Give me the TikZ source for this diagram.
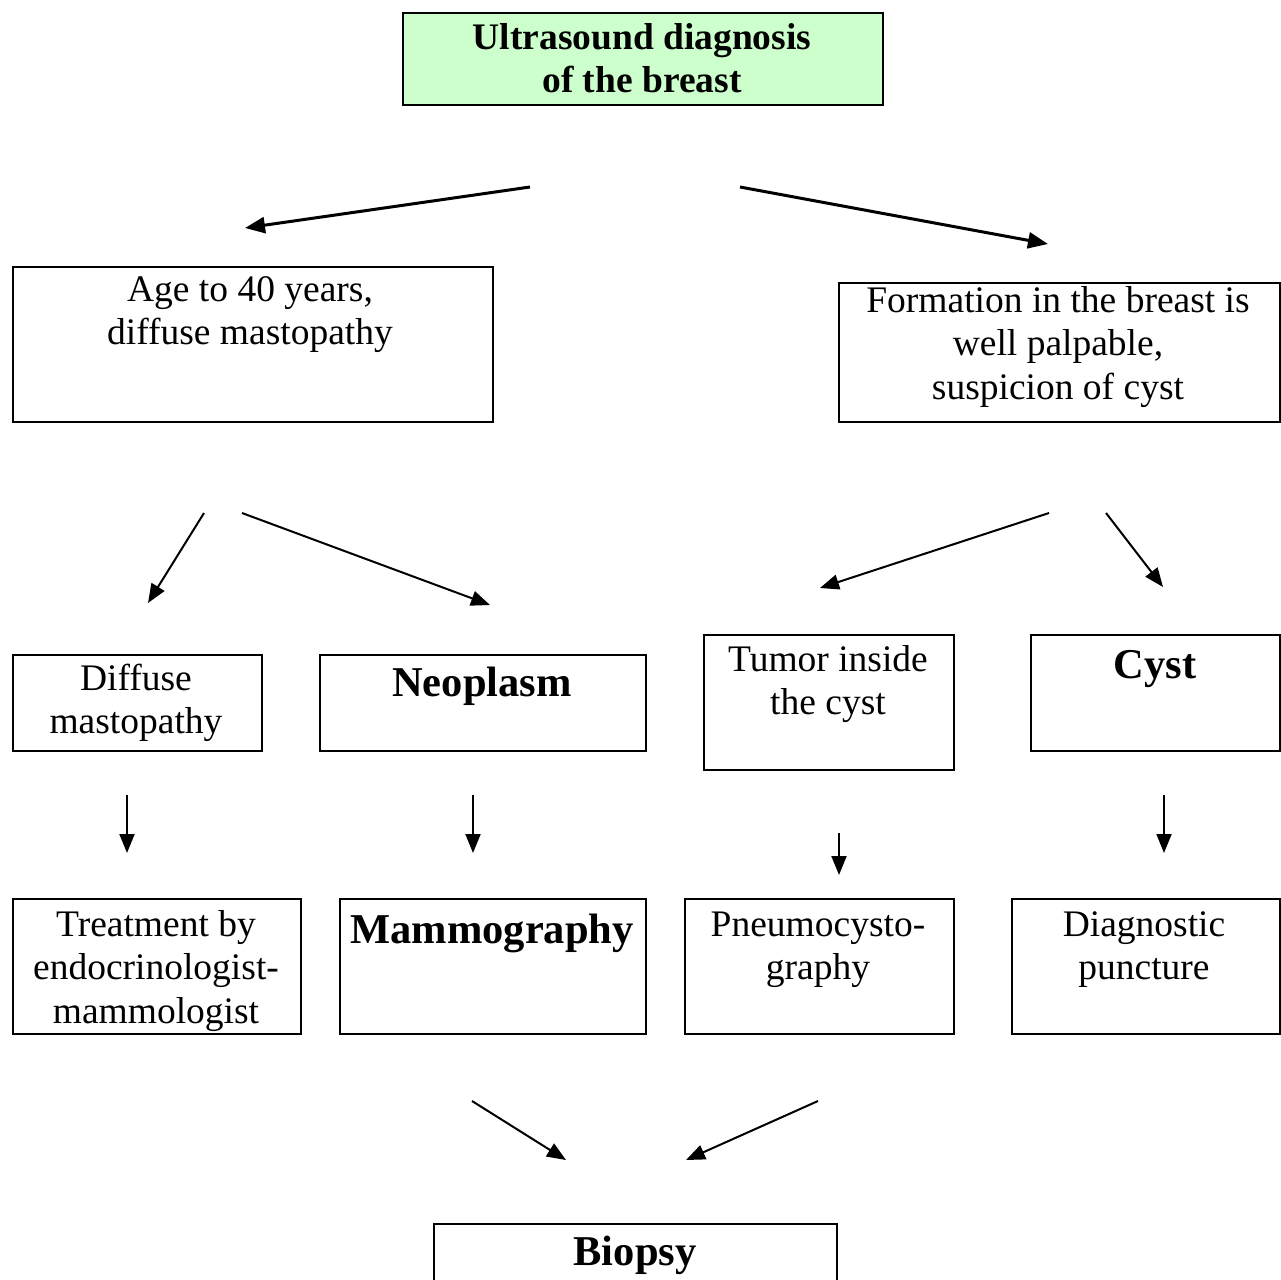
\documentclass[tikz,border=0pt]{standalone}
\usepackage{fontspec}
\setmainfont{Liberation Serif}
\usetikzlibrary{arrows.meta}
\newcommand\topstrut{\rule{0pt}{32pt}}
\begin{document}
\begin{tikzpicture}[x=1pt,y=-1pt,
 box/.style={draw, line width=1.6pt, inner sep=0pt, anchor=north west},
 txt/.style={font=\fontsize{37.5}{43.5}\selectfont, align=center, inner sep=0pt, anchor=north},
 btxt/.style={txt, font=\fontsize{37.5}{43.5}\selectfont\bfseries},
 bigtxt/.style={txt, font=\fontsize{42.5}{48}\selectfont\bfseries},
 arr/.style={line width=2pt, -{Triangle[length=19pt,width=15pt]}},
 thickarr/.style={line width=3pt, -{Triangle[length=20pt,width=16pt]}},
]
\useasboundingbox (0,0) rectangle (1281,1279);
\definecolor{boxgreen}{HTML}{CCFFCC}

% boxes
\node[box, fill=boxgreen, minimum width=480pt, minimum height=92pt] (top) at (402,12) {};
\node[box, minimum width=480pt, minimum height=155pt] (age) at (12,266) {};
\node[box, minimum width=441pt, minimum height=139pt] (form) at (838,282) {};
\node[box, minimum width=249pt, minimum height=96pt] (dif) at (12,654) {};
\node[box, minimum width=326pt, minimum height=96pt] (neo) at (319,654) {};
\node[box, minimum width=250pt, minimum height=135pt] (tum) at (703,634) {};
\node[box, minimum width=249pt, minimum height=116pt] (cyst) at (1030,634) {};
\node[box, minimum width=288pt, minimum height=135pt] (tre) at (12,898) {};
\node[box, minimum width=306pt, minimum height=135pt] (mam) at (339,898) {};
\node[box, minimum width=269pt, minimum height=135pt] (pne) at (684,898) {};
\node[box, minimum width=268pt, minimum height=135pt] (dia) at (1011,898) {};
\node[box, minimum width=403pt, minimum height=100pt] (bio) at (433,1223) {};

% texts
\node[btxt] (topT) at (642,17) {\topstrut Ultrasound diagnosis\\of the breast};
\node[txt] (ageT) at (250,269) {\topstrut Age to 40 years,\\diffuse mastopathy};
\node[txt] (formT) at (1058,280) {\topstrut Formation in the breast is\\well palpable,\\suspicion of cyst};
\node[txt] (difT) at (136,658) {\topstrut Diffuse\\mastopathy};
\node[bigtxt] (neoT) at (482,664) {\topstrut Neoplasm};
\node[txt] (tumT) at (828,639) {\topstrut Tumor inside\\the cyst};
\node[bigtxt] (cystT) at (1155,646) {\topstrut Cyst};
\node[txt] (treT) at (156,904) {\topstrut Treatment by\\endocrinologist-\\mammologist};
\node[bigtxt] (mamT) at (492,911) {\topstrut Mammography};
\node[txt] (pneT) at (818,904) {\topstrut Pneumocysto-\\graphy};
\node[txt] (diaT) at (1144,904) {\topstrut Diagnostic\\puncture};
\node[bigtxt] (bioT) at (635,1233) {\topstrut Biopsy};

% connector end points
\coordinate (s1) at (530,187); \coordinate (e1) at (245,228);
\coordinate (s2) at (740,187); \coordinate (e2) at (1048,244);
\coordinate (s3) at (204,513); \coordinate (e3) at (148,603);
\coordinate (s4) at (242,513); \coordinate (e4) at (490,605);
\coordinate (s5) at (1049,513); \coordinate (e5) at (820,588);
\coordinate (s6) at (1106,513); \coordinate (e6) at (1163,587);
\coordinate (s7) at (127,795); \coordinate (e7) at (127,853);
\coordinate (s8) at (473,795); \coordinate (e8) at (473,853);
\coordinate (s9) at (839,833); \coordinate (e9) at (839,875);
\coordinate (s10) at (1164,795); \coordinate (e10) at (1164,853);
\coordinate (s11) at (472,1101); \coordinate (e11) at (566,1160);
\coordinate (s12) at (818,1101); \coordinate (e12) at (686,1160);

\draw[thickarr] (s1) -- (e1);
\draw[thickarr] (s2) -- (e2);
\draw[arr] (s3) -- (e3);
\draw[arr] (s4) -- (e4);
\draw[arr] (s5) -- (e5);
\draw[arr] (s6) -- (e6);
\draw[arr] (s7) -- (e7);
\draw[arr] (s8) -- (e8);
\draw[arr] (s9) -- (e9);
\draw[arr] (s10) -- (e10);
\draw[arr] (s11) -- (e11);
\draw[arr] (s12) -- (e12);
\end{tikzpicture}
\end{document}
